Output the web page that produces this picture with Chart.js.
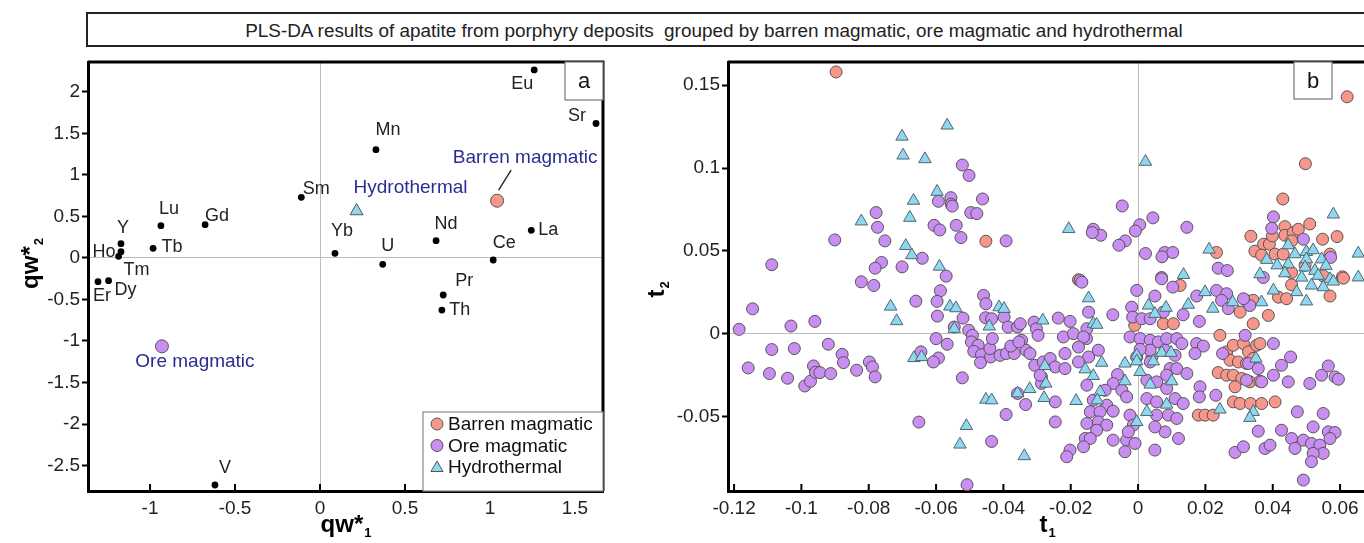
<!DOCTYPE html>
<html>
<head>
<meta charset="utf-8">
<script src="https://cdn.jsdelivr.net/npm/chart.js@4.4.1/dist/chart.umd.min.js"></script>
<style>
  html, body { margin: 0; padding: 0; background: #fff; overflow: hidden; width: 1364px; height: 543px; }
  #titleBox { position: absolute; left: 86px; top: 12px; width: 1320px; height: 31px; border: 2px solid #222; }
  #titleText { position: absolute; left: 0; top: 13px; width: 1428px; height: 35px;
    font: 18.9px "Liberation Sans", Arial, sans-serif; line-height: 35px;
    text-align: center; color: #222; white-space: pre; }
  #chartA { position: absolute; left: 0; top: 0; }
  #chartB { position: absolute; left: 640px; top: 0; }
</style>
</head>
<body>
<div id="titleBox"></div>
<div id="titleText">PLS-DA results of apatite from porphyry deposits  grouped by barren magmatic, ore magmatic and hydrothermal</div>
<canvas id="chartA" width="640" height="543"></canvas>
<canvas id="chartB" width="740" height="543"></canvas>
<script>
// ---- panel a: loadings ----
const loadingNames = ['Eu', 'Sr', 'Mn', 'Sm', 'Yb', 'U', 'Nd', 'Ce', 'La', 'Gd', 'Lu', 'Tb', 'Y', 'Ho', 'Tm', 'Er', 'Dy', 'Pr', 'Th', 'V'];
const loadingX = [1.26, 1.624, 0.329, -0.11, 0.088, 0.369, 0.683, 1.019, 1.243, -0.676, -0.936, -0.982, -1.171, -1.171, -1.185, -1.306, -1.244, 0.725, 0.717, -0.618];
const loadingY = [2.265, 1.62, 1.305, 0.731, 0.056, -0.076, 0.209, -0.024, 0.333, 0.401, 0.389, 0.117, 0.172, 0.076, 0.02, -0.285, -0.273, -0.446, -0.627, -2.735];

const groupNames = ['Barren magmatic', 'Ore magmatic', 'Hydrothermal'];
const groupX = [1.042, -0.93, 0.215];
const groupY = [0.69, -1.064, 0.566];

const aTicksX = [-1, -0.5, 0, 0.5, 1, 1.5];
const aTicksY = [-2.5, -2, -1.5, -1, -0.5, 0, 0.5, 1, 1.5, 2];

// ---- panel b: scores ----
const barrenScores = [
  [-0.0897, 0.158], [-0.0452, 0.0558], [0.0621, 0.143], [0.0497, 0.1026], [0.043, 0.0813],
  [0.0335, 0.0588], [0.0347, 0.0498], [0.0373, 0.054], [0.039, 0.054], [0.0399, 0.059], [0.0436, 0.0646],
  [0.0436, 0.0594], [0.0461, 0.061], [0.0476, 0.063], [0.051, 0.0662], [0.0548, 0.057], [0.0591, 0.0586],
  [0.0456, 0.056], [0.0407, 0.048], [0.0431, 0.048], [0.0367, 0.0474], [0.057, 0.048], [0.0607, 0.0343],
  [0.055, 0.0349], [0.0456, 0.0369], [0.0496, 0.0413], [0.0233, 0.049], [-0.0177, 0.0325],
  [0.0243, -0.001], [0.0263, -0.011], [0.0283, -0.007], [0.0313, -0.006], [0.0328, -0.011], [0.0352, -0.007],
  [0.0362, -0.006], [0.0273, -0.016], [0.0298, -0.0171], [0.0322, -0.018], [0.0342, -0.015], [0.0238, -0.0235],
  [0.0263, -0.0251], [0.0283, -0.0251], [0.0308, -0.0271], [0.0332, -0.0291], [0.0362, -0.0287], [0.0288, -0.0321],
  [0.0283, -0.0412], [0.0303, -0.0422], [0.0334, -0.0422], [0.0367, -0.0422], [0.0407, -0.0412],
  [0.0179, -0.0492], [0.0199, -0.0492], [0.0223, -0.0492],
  [0.032, 0.0201], [0.0342, 0.0201], [0.0303, 0.013], [0.0342, 0.006], [0.0387, 0.011], [0.0417, 0.022],
  [0.0441, 0.0211], [0.057, 0.0227], [0.061, 0.0335], [0.0456, 0.0295], [0.0125, 0.0291],
  [-0.001, 0.005], [0.0075, 0.006], [0.0105, 0.006], [0.0041, -0.0141]
];
const oreScores = [
  [-0.0522, 0.1018], [-0.0502, 0.0955], [-0.0462, 0.0813], [-0.0556, 0.0821], [-0.0593, 0.0799], [-0.0555, 0.0781],
  [-0.0552, 0.077], [-0.0497, 0.0731], [-0.0479, 0.0725], [-0.0778, 0.0731], [-0.0774, 0.0642], [-0.0752, 0.056],
  [-0.0901, 0.0566], [-0.0606, 0.0654], [-0.0589, 0.0626], [-0.054, 0.0654], [-0.0526, 0.058], [-0.0392, 0.056],
  [-0.1088, 0.0416], [-0.0762, 0.043], [-0.0781, 0.0395], [-0.0701, 0.0403], [-0.0641, 0.0455], [-0.057, 0.0347],
  [-0.0047, 0.0771], [0.0044, 0.0699], [0.0145, 0.0642], [0.0005, 0.0657], [-0.0008, 0.062], [-0.0133, 0.063],
  [-0.0111, 0.0594], [-0.0136, 0.061], [-0.0038, 0.056], [-0.0057, 0.0534], [0.0022, 0.0484], [0.0079, 0.049],
  [0.0103, 0.049], [0.0071, 0.0464], [0.0238, 0.0395], [0.0265, 0.0381], [0.007, 0.0339], [0.0402, 0.0705],
  [0.0397, 0.0636], [0.0491, 0.057], [0.0572, 0.046], [0.0372, 0.0339], [-0.0172, 0.0322],
  [-0.1185, 0.0026], [-0.1145, 0.015], [-0.1158, -0.0207], [-0.1088, -0.0096], [-0.1095, -0.0241], [-0.1031, 0.0046],
  [-0.1021, -0.009], [-0.1041, -0.0269], [-0.096, 0.0074], [-0.099, -0.0316], [-0.0973, -0.0287], [-0.0964, -0.0195],
  [-0.0958, -0.0233], [-0.0945, -0.0235], [-0.0913, -0.0241], [-0.092, -0.0064], [-0.0879, -0.0125], [-0.0875, -0.0175],
  [-0.0836, -0.0221], [-0.0798, -0.0171], [-0.0789, -0.0201], [-0.0781, -0.0261], [-0.0822, 0.0313], [-0.0785, 0.0291],
  [-0.066, 0.0196], [-0.0587, 0.0259], [-0.0597, 0.0195], [-0.0596, 0.0106], [-0.06, -0.003], [-0.0567, -0.0064],
  [-0.0645, -0.011], [-0.0593, -0.0147], [-0.0608, -0.0171], [-0.0522, -0.0267], [-0.0651, -0.0534], [-0.0435, -0.0651],
  [-0.0508, -0.0912], [-0.0392, -0.0488], [-0.0334, -0.0428], [-0.0358, -0.0361], [-0.0459, 0.0231], [-0.0452, 0.018],
  [-0.0453, 0.0096], [-0.0435, 0.009], [-0.052, 0.0094], [-0.0546, 0.004], [-0.0503, 0.002], [-0.0492, -0.001],
  [-0.0495, -0.005], [-0.0475, -0.007], [-0.0488, -0.0107], [-0.0465, -0.0127], [-0.0468, -0.0175], [-0.0438, -0.0141],
  [-0.044, -0.009], [-0.0433, -0.003], [-0.0398, 0.01], [-0.0386, 0.004], [-0.0358, 0.004], [-0.035, 0.006],
  [-0.041, -0.0131], [-0.0391, -0.012], [-0.0368, -0.012], [-0.0378, -0.0075], [-0.0346, -0.004], [-0.0333, -0.01],
  [-0.0321, -0.012], [-0.0309, 0.007], [-0.0302, 0.003], [-0.0297, -0.001], [-0.0307, -0.0191], [-0.0287, -0.0261],
  [-0.0287, -0.0301], [-0.0282, -0.0171], [-0.0354, -0.005], [-0.0153, -0.003],
  [0.007, 0.0331], [0.0103, 0.0281], [-0.0004, 0.0261], [0.005, 0.0227], [0.0174, 0.0227], [0.0233, 0.0261],
  [0.0263, 0.0241], [0.0248, 0.0201], [0.0268, 0.0151], [0.0332, 0.017], [0.0313, 0.0211], [-0.0167, 0.0311],
  [-0.0237, 0.0094], [-0.0202, 0.0074], [-0.0152, 0.003], [-0.0222, -0.002], [-0.0192, 0], [-0.0162, -0.002],
  [-0.0177, -0.0081], [-0.0217, -0.012], [-0.0147, -0.0141], [-0.0118, -0.01], [-0.0261, -0.015], [-0.0246, -0.0201],
  [-0.0217, -0.0211], [-0.0177, -0.0171], [-0.0152, -0.0311], [-0.0246, -0.0412], [-0.0246, -0.0533], [-0.0291, -0.0251],
  [-0.0147, 0.013], [-0.0075, 0.0114], [-0.0019, 0.016], [-0.0016, 0.01],
  [-0.0061, -0.0247], [-0.0074, -0.0301], [-0.0098, -0.0342], [-0.0048, -0.0342], [-0.0034, -0.0382], [-0.0133, -0.0402],
  [-0.0093, -0.0432], [-0.0142, -0.0472], [-0.0113, -0.0472], [-0.0074, -0.0468], [-0.0152, -0.0542], [-0.0118, -0.0533],
  [-0.0093, -0.0552], [-0.0123, -0.0583], [-0.0157, -0.0633], [-0.0142, -0.0633], [-0.0074, -0.0643], [-0.0034, -0.0643],
  [-0.0009, -0.0663], [-0.0039, -0.0713], [-0.0162, -0.0683], [-0.0202, -0.0703], [-0.0212, -0.0743], [-0.0024, -0.0492],
  [-0.0014, -0.0552], [-0.0029, -0.0593],
  [-0.0024, -0.002], [0.0006, -0.003], [0.0036, -0.004], [0.006, -0.005], [0.0085, -0.003], [0.0115, -0.003],
  [0.013, -0.006], [0.0036, -0.01], [0.008, -0.01], [0.011, -0.0131], [0.0095, -0.0211], [0.0115, -0.0211],
  [0.0145, -0.0241], [0.0036, -0.0171], [0.0085, -0.0251], [0.0026, -0.0281], [0.0055, -0.0291], [0.0085, -0.0331],
  [0.0026, -0.0392], [0.0055, -0.0412], [0.011, -0.0392], [0.0134, -0.0422], [0.0055, -0.0492], [0.009, -0.0492],
  [0.0115, -0.0512], [0.008, -0.0593], [0.005, -0.0563], [0.012, -0.0633], [0.005, -0.0703], [0.0011, 0.009],
  [0.0036, 0.009], [0.0075, 0.013], [0.0134, 0.0114], [0.0182, 0.0074], [-0.0004, -0.0141], [0.0006, -0.0095],
  [0.0174, -0.006], [0.0194, -0.0075], [0.0169, -0.012], [0.0184, -0.0321], [0.0182, -0.0382], [0.0231, -0.0372],
  [0.0251, -0.012], [0.0318, -0.001], [0.0328, -0.018], [0.0357, -0.0211], [0.0402, -0.006],
  [0.0402, -0.0251], [0.0367, -0.0291], [0.0322, -0.0281], [0.0426, -0.0191], [0.0453, -0.0141], [0.0446, -0.0291],
  [0.051, -0.0301], [0.0545, -0.0251], [0.0565, -0.0195], [0.0585, -0.0261], [0.0595, -0.0275], [0.0473, -0.0472],
  [0.055, -0.0482], [0.0426, -0.0583], [0.0357, -0.0589], [0.052, -0.0563], [0.0565, -0.0593], [0.0585, -0.0597],
  [0.057, -0.0633], [0.0456, -0.0633], [0.0491, -0.0643], [0.0515, -0.0663], [0.054, -0.0673], [0.055, -0.0723],
  [0.052, -0.0723], [0.0515, -0.0773], [0.0491, -0.0884], [0.0288, -0.0717], [0.0313, -0.0683], [0.0377, -0.0693],
  [0.0392, -0.0673], [0.0466, -0.0693]
];
const hydroScores = [
  [-0.0567, 0.1257], [-0.0701, 0.119], [-0.0698, 0.1076], [-0.0633, 0.1054], [-0.0597, 0.0857], [-0.0667, 0.0803],
  [-0.0678, 0.070], [-0.0822, 0.0678], [-0.069, 0.053], [-0.0672, 0.0474], [-0.059, 0.0405],
  [0.0022, 0.1038], [0.058, 0.072], [-0.0206, 0.0632], [0.0654, 0.0484], [0.0211, 0.0508], [0.0135, 0.0355],
  [0.0446, 0.0534], [0.0466, 0.048], [0.05, 0.0494], [0.052, 0.0504], [0.0382, 0.0446], [0.0413, 0.0413],
  [0.0446, 0.0419], [0.05, 0.0449], [0.0545, 0.0449], [0.0558, 0.041], [0.0436, 0.0365], [0.0362, 0.0359],
  [0.0496, 0.04], [0.0525, 0.038], [0.0486, 0.0339], [0.0535, 0.035], [0.057, 0.033], [0.0654, 0.034],
  [-0.0735, 0.0164], [-0.0717, 0.0076], [-0.0666, -0.0147], [-0.0643, -0.0141], [-0.0559, 0.0164], [-0.0541, 0.0154],
  [-0.0546, 0.003], [-0.0442, 0.0044], [-0.0413, 0.016], [-0.0398, 0.015], [-0.0283, 0.008], [-0.0452, -0.0398],
  [-0.0435, -0.0402], [-0.0358, -0.036], [-0.0322, -0.0334], [-0.0279, -0.0388], [-0.0277, -0.0195], [-0.051, -0.0557],
  [-0.0529, -0.0669], [-0.0338, -0.0739],
  [-0.0147, 0.0214], [-0.0133, 0.006], [-0.0123, 0.0054], [-0.0157, -0.0215], [-0.0108, -0.0175], [-0.0039, -0.018],
  [-0.0004, -0.0131], [-0.0004, -0.0167], [0.0006, -0.0231], [-0.0133, -0.0255], [-0.0039, -0.0287], [-0.0274, -0.0301],
  [-0.0184, -0.0406], [-0.0113, -0.0352], [-0.0121, -0.0402], [-0.0004, -0.0533], [0.0026, -0.0472], [0.0031, 0.017],
  [0.005, 0.012], [0.0083, 0.0157], [0.0149, 0.0175], [0.0199, 0.0251], [0.0222, 0.0151], [0.0281, 0.019],
  [0.0036, -0.0307], [0.01, -0.0287], [0.0085, -0.0428], [0.0045, -0.0167], [0.007, -0.0115], [0.0098, -0.0115],
  [0.0243, -0.0458], [0.0342, -0.0472], [0.0332, -0.0508], [0.035, -0.015], [0.0367, 0.019], [0.0402, 0.0261],
  [0.0471, 0.0251], [0.05, 0.0195], [0.0515, 0.0291], [0.055, 0.0281], [0.058, 0.0315]
];

const bTicksX = [-0.12, -0.1, -0.08, -0.06, -0.04, -0.02, 0, 0.02, 0.04, 0.06];
const bTicksY = [-0.05, 0, 0.05, 0.1, 0.15];

// ---- styles ----
const COLORS = { barren: '#f7968a', ore: '#c98ef1', hydro: '#8fd7ee', edge: '#555555' };
const FONT = '"Liberation Sans", Arial, sans-serif';
const BLUE = '#2b2e91';

const labelOffset = {
  Eu: [-12, 14], Sr: [-19, -7], Mn: [12, -20], Sm: [15, -8], Yb: [7, -22], U: [5, -18], Nd: [10, -17],
  Ce: [11, -17], La: [17, 0], Gd: [12, -9], Lu: [8, -17], Tb: [19, -1], Y: [2, -16], Ho: [-17, 0],
  Tm: [18, 14], Er: [4, 14], Dy: [17, 9], Pr: [21, -14], Th: [18, 0], V: [10, -17]
};
const groupLabelOffset = [[28, -43], [33, 15], [54, -23]];

function pairs(list) {
  return list.map(p => ({ x: p[0], y: p[1] }));
}

function axis(min, max, values, isX, width) {
  return {
    type: 'linear',
    min, max,
    afterBuildTicks: s => { s.ticks = values.map(v => ({ value: v })); },
    afterFit: s => { if (isX) s.height = 52; else s.width = width; },
    border: { display: true, color: '#000', width: 3 },
    grid: {
      color: c => (c.tick && c.tick.value === 0) ? '#bdbdbd' : 'rgba(0,0,0,0)',
      lineWidth: 1,
      drawTicks: !isX,
      tickLength: 6,
      tickWidth: 2,
      tickColor: '#000'
    },
    ticks: {
      color: '#222',
      font: { family: FONT, size: 19 },
      padding: isX ? 6 : 2,
      maxRotation: 0,
      autoSkip: false,
      callback: v => String(v)
    }
  };
}

function innerXTicks(chart, values) {
  const { ctx, chartArea } = chart;
  const xs = chart.scales.x;
  ctx.save();
  ctx.strokeStyle = '#000';
  ctx.lineWidth = 2;
  values.forEach(v => {
    const px = xs.getPixelForValue(v);
    ctx.beginPath();
    ctx.moveTo(px, chartArea.bottom);
    ctx.lineTo(px, chartArea.bottom - 7);
    ctx.stroke();
  });
  ctx.restore();
}

function subTitle(ctx, main, sub, x, y, rotate) {
  ctx.save();
  ctx.translate(x, y);
  if (rotate) ctx.rotate(-Math.PI / 2);
  ctx.fillStyle = '#000';
  ctx.textBaseline = 'alphabetic';
  ctx.font = 'bold 24px ' + FONT;
  const w1 = ctx.measureText(main).width;
  ctx.font = 'bold 13px ' + FONT;
  const w2 = ctx.measureText(sub).width;
  const start = -(w1 + w2) / 2;
  ctx.font = 'bold 24px ' + FONT;
  ctx.fillText(main, start, 8);
  ctx.font = 'bold 13px ' + FONT;
  ctx.fillText(sub, start + w1 + 1, 13);
  ctx.restore();
}

function cornerBox(ctx, chartArea, text, x0, x1, y1) {
  ctx.save();
  ctx.fillStyle = '#fff';
  ctx.fillRect(x0, chartArea.top, x1 - x0, y1 - chartArea.top);
  ctx.strokeStyle = '#777';
  ctx.lineWidth = 1.2;
  ctx.strokeRect(x0, chartArea.top, x1 - x0, y1 - chartArea.top);
  ctx.fillStyle = '#111';
  ctx.font = '22px ' + FONT;
  ctx.textAlign = 'center';
  ctx.textBaseline = 'middle';
  ctx.fillText(text, (x0 + x1) / 2, (chartArea.top + y1) / 2 + 1);
  ctx.restore();
}

function marker(ctx, kind, x, y, r) {
  ctx.save();
  ctx.fillStyle = COLORS[kind];
  ctx.strokeStyle = COLORS.edge;
  ctx.lineWidth = 1;
  ctx.beginPath();
  if (kind === 'hydro') {
    ctx.moveTo(x, y - r);
    ctx.lineTo(x + r * 0.866, y + r * 0.5);
    ctx.lineTo(x - r * 0.866, y + r * 0.5);
    ctx.closePath();
  } else {
    ctx.arc(x, y, r, 0, Math.PI * 2);
  }
  ctx.fill();
  ctx.stroke();
  ctx.restore();
}

const panelAPlugin = {
  id: 'panelA',
  afterDatasetsDraw(chart) {
    const { ctx, chartArea } = chart;
    const xs = chart.scales.x, ys = chart.scales.y;
    ctx.save();
    // top and right frame
    ctx.strokeStyle = '#000';
    ctx.lineWidth = 3;
    ctx.beginPath();
    ctx.moveTo(chartArea.left, chartArea.top);
    ctx.lineTo(chartArea.right, chartArea.top);
    ctx.lineTo(chartArea.right, chartArea.bottom);
    ctx.stroke();
    innerXTicks(chart, aTicksX);

    // element labels
    ctx.fillStyle = '#222';
    ctx.font = '18px ' + FONT;
    ctx.textAlign = 'center';
    ctx.textBaseline = 'middle';
    loadingNames.forEach((n, i) => {
      const o = labelOffset[n];
      ctx.fillText(n, xs.getPixelForValue(loadingX[i]) + o[0], ys.getPixelForValue(loadingY[i]) + o[1]);
    });

    // group labels
    ctx.fillStyle = BLUE;
    ctx.font = '19px ' + FONT;
    groupNames.forEach((n, i) => {
      const o = groupLabelOffset[i];
      ctx.fillText(n, xs.getPixelForValue(groupX[i]) + o[0], ys.getPixelForValue(groupY[i]) + o[1]);
    });
    const bx = xs.getPixelForValue(groupX[0]), by = ys.getPixelForValue(groupY[0]);
    ctx.strokeStyle = '#222';
    ctx.lineWidth = 1.3;
    ctx.beginPath();
    ctx.moveTo(bx + 1.5, by - 10.5);
    ctx.lineTo(bx + 14, by - 30.5);
    ctx.stroke();

    // legend
    const lx0 = 423, ly0 = 412;
    ctx.fillStyle = '#fff';
    ctx.fillRect(lx0, ly0, chartArea.right - lx0, chartArea.bottom - ly0);
    ctx.strokeStyle = '#888';
    ctx.lineWidth = 1.2;
    ctx.strokeRect(lx0, ly0, chartArea.right - lx0, chartArea.bottom - ly0);
    const kinds = ['barren', 'ore', 'hydro'];
    ctx.font = '19px ' + FONT;
    ctx.textAlign = 'left';
    kinds.forEach((k, i) => {
      const yy = 424 + i * 21.5;
      marker(ctx, k, 437, yy + (k === 'hydro' ? 1 : 0), k === 'hydro' ? 7 : 6);
      ctx.fillStyle = '#111';
      ctx.fillText(groupNames[i], 448, yy + 1);
    });
    ctx.restore();

    cornerBox(ctx, chartArea, 'a', 565, chartArea.right, 100);
    subTitle(ctx, 'qw*', '1', (chartArea.left + chartArea.right) / 2, 524, false);
    subTitle(ctx, 'qw*', '2', 30, 264, true);
  }
};

const panelBPlugin = {
  id: 'panelB',
  afterDatasetsDraw(chart) {
    const { ctx, chartArea } = chart;
    ctx.save();
    ctx.strokeStyle = '#000';
    ctx.lineWidth = 3;
    ctx.beginPath();
    ctx.moveTo(chartArea.left, chartArea.top);
    ctx.lineTo(chartArea.right + 20, chartArea.top);
    ctx.stroke();
    ctx.restore();
    innerXTicks(chart, bTicksX);
    cornerBox(ctx, chartArea, 'b', 1294 - 640, 1332 - 640, 99);
    subTitle(ctx, 't', '1', (chartArea.left + chartArea.right) / 2, 524, false);
    subTitle(ctx, 't', '2', 16, 290, true);
  }
};

const commonOptions = {
  responsive: false,
  animation: false,
  events: [],
  plugins: { legend: { display: false }, tooltip: { enabled: false } }
};

new Chart(document.getElementById('chartA'), {
  type: 'scatter',
  data: {
    datasets: [
      {
        data: loadingNames.map((n, i) => ({ x: loadingX[i], y: loadingY[i] })),
        pointRadius: 3.4, backgroundColor: '#000', borderColor: '#000', borderWidth: 0, order: 0
      },
      {
        data: [{ x: groupX[0], y: groupY[0] }],
        pointRadius: 6.5, backgroundColor: COLORS.barren, borderColor: COLORS.edge, borderWidth: 1, order: 1
      },
      {
        data: [{ x: groupX[1], y: groupY[1] }],
        pointRadius: 6.5, backgroundColor: COLORS.ore, borderColor: COLORS.edge, borderWidth: 1, order: 1
      },
      {
        data: [{ x: groupX[2], y: groupY[2] }],
        pointStyle: 'triangle', pointRadius: 7.5, backgroundColor: COLORS.hydro, borderColor: COLORS.edge, borderWidth: 1, order: 1
      }
    ]
  },
  options: Object.assign({}, commonOptions, {
    layout: { padding: { top: 62, right: 37, left: 0, bottom: 0 } },
    scales: {
      x: axis(-1.365, 1.665, aTicksX, true),
      y: axis(-2.807, 2.361, aTicksY, false, 88)
    }
  }),
  plugins: [panelAPlugin]
});

new Chart(document.getElementById('chartB'), {
  type: 'scatter',
  data: {
    datasets: [
      {
        data: pairs(barrenScores), pointRadius: 6, backgroundColor: COLORS.barren,
        borderColor: COLORS.edge, borderWidth: 1, order: 2
      },
      {
        data: pairs(oreScores), pointRadius: 6, backgroundColor: COLORS.ore,
        borderColor: COLORS.edge, borderWidth: 1, order: 1
      },
      {
        data: pairs(hydroScores), pointStyle: 'triangle', pointRadius: 7.2, backgroundColor: COLORS.hydro,
        borderColor: '#4f6670', borderWidth: 1, order: 0
      }
    ]
  },
  options: Object.assign({}, commonOptions, {
    layout: { padding: { top: 62, right: 14, left: 0, bottom: 0 } },
    scales: {
      x: axis(-0.1218, 0.0677, bTicksX, true),
      y: axis(-0.095, 0.164, bTicksY, false, 88)
    }
  }),
  plugins: [panelBPlugin]
});
</script>
</body>
</html>
